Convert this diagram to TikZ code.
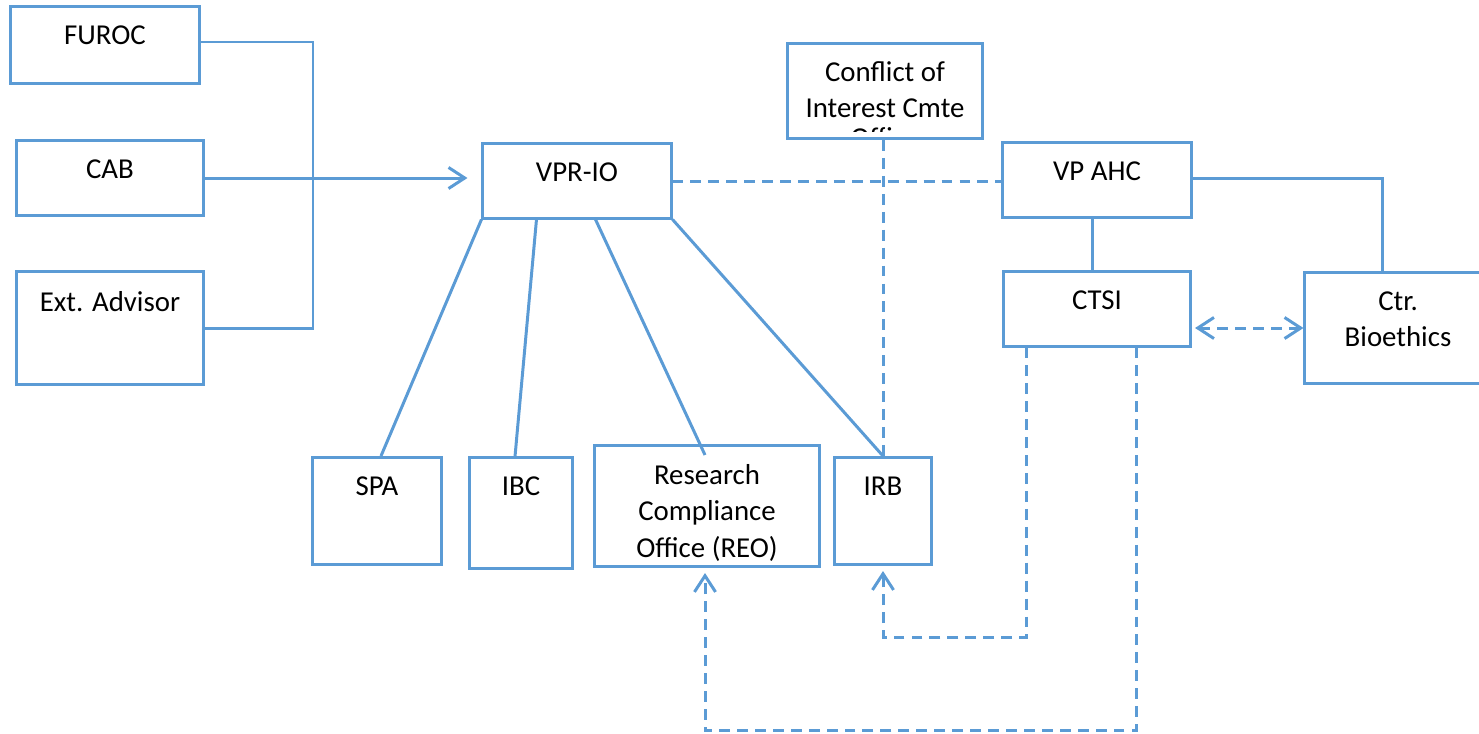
\documentclass[tikz,border=0pt]{standalone}
\usepackage{fontspec}
\setmainfont{Carlito}
\usetikzlibrary{arrows.meta}
\definecolor{orgblue}{HTML}{5B9BD5}
\tikzset{
    barb/.tip={Straight Barb[length=4.6pt, width=6pt]},
    unit/.style={draw=orgblue, line width=0.85pt, rectangle, inner sep=0pt},
    caption/.style={anchor=north, yshift=-0.20cm, align=center, inner sep=0pt,
        font=\fontsize{8.2}{10.3}\selectfont},
    link/.style={draw=orgblue, line width=0.85pt},
    dashlink/.style={link, dash pattern=on 3.1pt off 2pt}
}

\begin{document}
\begin{tikzpicture}[x=0.01cm, y=-0.01cm]
    \clip (0, 0) rectangle (1479, 733);

    % left column
    \node[unit, minimum width=1.88cm, minimum height=0.76cm, label={[caption]north:FUROC}] (furoc) at (105, 45) {};
    \node[unit, minimum width=1.87cm, minimum height=0.75cm, label={[caption]north:CAB}] (cab) at (110, 178) {};
    \node[unit, minimum width=1.87cm, minimum height=1.12cm, label={[caption]north:Ext. Advisor}] (extadv) at (110, 328) {};

    % top row
    \node[unit, minimum width=1.88cm, minimum height=0.74cm, label={[caption]north:VPR-IO}] (vprio) at (577, 181) {};
    \node[unit, minimum width=1.94cm, minimum height=0.95cm] (coi) at (885, 91) {};
    \node[unit, minimum width=1.88cm, minimum height=0.75cm, label={[caption]north:VP AHC}] (vpahc) at (1097, 180) {};
    \node[unit, minimum width=1.87cm, minimum height=0.74cm, label={[caption]north:CTSI}] (ctsi) at (1097, 309) {};
    \node[unit, minimum width=1.86cm, minimum height=1.11cm, label={[caption]north:{Ctr.\\Bioethics}}] (bioeth) at (1398, 328) {};

    % bottom row
    \node[unit, minimum width=1.28cm, minimum height=1.07cm, label={[caption]north:SPA}] (spa) at (377, 511) {};
    \node[unit, minimum width=1.02cm, minimum height=1.10cm, label={[caption]north:IBC}] (ibc) at (521, 513) {};
    \node[unit, minimum width=2.25cm, minimum height=1.21cm, label={[caption]north:{Research\\Compliance\\Office (REO)}}] (reo) at (707, 506) {};
    \node[unit, minimum width=0.97cm, minimum height=1.07cm, label={[caption]north:IRB}] (irb) at (883, 511) {};

    % clipped text of the conflict of interest box
    \begin{scope}
        \clip (coi.north west) rectangle ([yshift=0.09cm]coi.south east);
        \node[caption, yshift=0.01cm] at (coi.north) {Conflict of\\Interest Cmte\\[-1.9pt]Office};
    \end{scope}

    % advisory bodies
    \coordinate (bustop) at (313, 42);
    \coordinate (busbot) at (313, 328);
    \draw[link] (furoc.east |- bustop) -- (bustop) -- (busbot) -- (extadv.east |- busbot);
    \draw[link, -barb, shorten >=0.14cm] (cab.east) -- (cab.east -| vprio.west);

    % VPR-IO reports
    \draw[dashlink] (vprio.east) -- (vprio.east -| vpahc.west);
    \draw[link] (vprio.south west) -- ([xshift=0.04cm]spa.north);
    \draw[link] ([xshift=0.55cm]vprio.south west) -- ([xshift=-0.06cm]ibc.north);
    \draw[link] ([xshift=1.14cm]vprio.south west) -- ([xshift=-0.02cm, yshift=-0.11cm]reo.north);
    \draw[link] (vprio.south east) -- (irb.north);
    \draw[dashlink] (irb.north |- coi.south) -- (irb.north);

    % health center side
    \coordinate (elbow) at (1382, 178);
    \draw[link] (vpahc.east |- elbow) -- (elbow) -- (elbow |- bioeth.north);
    \draw[link] ([xshift=-0.05cm]vpahc.south) -- ([xshift=-0.05cm]ctsi.north);
    \draw[dashlink, barb-barb, shorten <=0.03cm] (bioeth.west -| ctsi.east) -- (bioeth.west);

    % CTSI loops
    \draw[dashlink, -barb, shorten >=0.05cm] ([xshift=0.25cm]ctsi.south west) -- ++(0, 290) -| (irb.south);
    \draw[dashlink, -barb, shorten >=0.05cm] ([xshift=1.34cm]ctsi.south west) -- ++(0, 383) -| ([xshift=-0.02cm]reo.south);
\end{tikzpicture}
\end{document}
